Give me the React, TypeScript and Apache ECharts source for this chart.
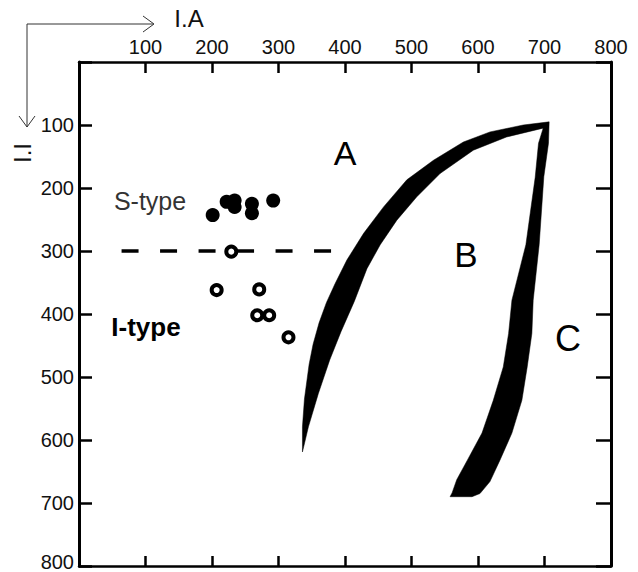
import React, { useEffect, useRef } from "react";
import * as echarts from "echarts";

// Axis ranges / ticks
const axisMin = 0;
const axisMax = 800;
const axisStep = 100;

// S-type granites (filled circles): I.A on x, I.I on y
const sTypeIA = [201, 222, 234, 234, 260, 260, 292];
const sTypeII = [243, 222, 220, 230, 225, 240, 220];

// I-type granites (open circles)
const iTypeIA = [229, 207, 271, 268, 286, 315];
const iTypeII = [301, 362, 361, 402, 402, 437];

// Dashed S/I divider
const dividerIA = [64, 405];
const dividerII = [300, 300];

// Black band outline (data coordinates)
const leftBandOuter: [number, number][] = [
  [707, 95], [668, 100], [618, 111], [578, 127], [533, 156], [493, 187],
  [458, 230], [428, 272], [403, 314], [385, 352], [372, 382], [361, 414],
  [352, 448], [346, 480], [339, 535], [336, 579], [336, 619],
];
const leftBandInner: [number, number][] = [
  [345, 579], [360, 526], [377, 473], [394, 428], [414, 380], [433, 328],
  [453, 290], [478, 251], [508, 214], [543, 177], [593, 140], [643, 119],
  [698, 105],
];
const rightBandLeft: [number, number][] = [
  [691, 129], [686, 183], [672, 290], [651, 378], [646, 431], [638, 484],
  [623, 537], [606, 589], [584, 632], [568, 663], [561, 684], [558, 690],
];
const rightBandRight: [number, number][] = [
  [591, 690], [603, 685], [618, 666], [633, 632], [651, 589], [666, 537],
  [674, 484], [681, 431], [683, 378], [692, 290], [699, 182], [706, 129],
];

const bandOutline = [...leftBandOuter, ...leftBandInner, ...rightBandLeft, ...rightBandRight];

const FONT = "'Liberation Sans', Arial, sans-serif";

export default function App() {
  const ref = useRef<HTMLDivElement>(null);

  useEffect(() => {
    document.body.style.margin = "0";
    if (!ref.current) return;
    const chart = echarts.init(ref.current, undefined, { renderer: "svg" });

    const hideZero = (v: number) => (v === 0 ? "" : String(v));
    const yLabel = (v: number) => (v === 0 ? "" : v === axisMax ? `{up|${v}}` : String(v));

    const baseAxis = {
      type: "value" as const,
      min: axisMin,
      max: axisMax,
      interval: axisStep,
      splitLine: { show: false },
    };

    chart.setOption({
      animation: false,
      backgroundColor: "#fff",
      grid: { left: 79, top: 62, width: 532, height: 504 },
      xAxis: [
        {
          ...baseAxis,
          position: "top",
          axisLine: { show: true, onZero: false, lineStyle: { color: "#000", width: 2.5 } },
          axisTick: { show: true, inside: true, length: 11, lineStyle: { color: "#000", width: 2.5 } },
          axisLabel: { show: true, formatter: hideZero, margin: 5, color: "#111", fontSize: 20, fontFamily: FONT },
        },
        {
          ...baseAxis,
          position: "bottom",
          axisLine: { show: true, onZero: false, lineStyle: { color: "#000", width: 2.5 } },
          axisTick: { show: true, inside: true, length: 10, lineStyle: { color: "#000", width: 2.5 } },
          axisLabel: { show: false },
        },
      ],
      yAxis: [
        {
          ...baseAxis,
          inverse: true,
          position: "left",
          axisLine: { show: true, onZero: false, lineStyle: { color: "#000", width: 3 } },
          axisTick: { show: true, inside: true, length: 13, lineStyle: { color: "#000", width: 2.5 } },
          axisLabel: {
            show: true,
            formatter: yLabel,
            margin: 5,
            color: "#111",
            fontSize: 20,
            fontFamily: FONT,
            rich: { up: { fontSize: 20, fontFamily: FONT, color: "#111", padding: [0, 0, 9, 0] } },
          },
        },
        {
          ...baseAxis,
          inverse: true,
          position: "right",
          axisLine: { show: true, onZero: false, lineStyle: { color: "#000", width: 3 } },
          axisTick: { show: true, inside: true, length: 15, lineStyle: { color: "#000", width: 2.5 } },
          axisLabel: { show: false },
        },
      ],
      series: [
        {
          type: "line",
          xAxisIndex: 0,
          yAxisIndex: 0,
          data: dividerIA.map((x, i) => [x, dividerII[i]]),
          symbol: "none",
          z: 2,
          lineStyle: { color: "#000", width: 3.5, type: [17, 21.5] },
          silent: true,
        },
        {
          type: "custom",
          coordinateSystem: "cartesian2d",
          xAxisIndex: 0,
          yAxisIndex: 0,
          data: [[0, 0]],
          z: 3,
          silent: true,
          renderItem: (_params: any, api: any) => {
            const pts = bandOutline.map((p) => api.coord(p));
            return {
              type: "polygon",
              shape: { points: pts },
              style: { fill: "#000", stroke: "#000", lineWidth: 0.5 },
            };
          },
        },
        {
          type: "scatter",
          name: "S-type",
          xAxisIndex: 0,
          yAxisIndex: 0,
          z: 4,
          symbol: "circle",
          symbolSize: 14,
          itemStyle: { color: "#000", opacity: 1 },
          data: sTypeIA.map((x, i) => [x, sTypeII[i]]),
        },
        {
          type: "scatter",
          name: "I-type",
          xAxisIndex: 0,
          yAxisIndex: 0,
          z: 5,
          symbol: "circle",
          symbolSize: 10,
          itemStyle: { color: "#fff", borderColor: "#000", borderWidth: 4, opacity: 1 },
          data: iTypeIA.map((x, i) => [x, iTypeII[i]]),
        },
      ],
      graphic: [
        { type: "polyline", shape: { points: [[27, 24], [153, 24]] }, style: { stroke: "#333", lineWidth: 1, fill: "none" } },
        { type: "polyline", shape: { points: [[143, 16], [154, 24], [143, 32]] }, style: { stroke: "#333", lineWidth: 1, fill: "none" } },
        { type: "polyline", shape: { points: [[27, 24], [27, 127]] }, style: { stroke: "#333", lineWidth: 1, fill: "none" } },
        { type: "polyline", shape: { points: [[19, 116], [27, 127], [35, 116]] }, style: { stroke: "#333", lineWidth: 1, fill: "none" } },
        { type: "text", x: 189, y: 18, style: { text: "I.A", fontSize: 24, fontFamily: FONT, fill: "#111", align: "center", verticalAlign: "middle" } },
        { type: "text", x: 22, y: 153, rotation: Math.PI / 2, style: { text: "I.I", fontSize: 24, fontFamily: FONT, fill: "#111", align: "center", verticalAlign: "middle" } },
        { type: "text", x: 150, y: 201, z: 10, style: { text: "S-type", fontSize: 25, fontFamily: FONT, fill: "#333", align: "center", verticalAlign: "middle" } },
        { type: "text", x: 146, y: 327, z: 10, style: { text: "I-type", fontSize: 26, fontWeight: "bold", fontFamily: FONT, fill: "#000", align: "center", verticalAlign: "middle" } },
        { type: "text", x: 345, y: 153, z: 10, style: { text: "A", fontSize: 34, fontFamily: FONT, fill: "#000", align: "center", verticalAlign: "middle" } },
        { type: "text", x: 466, y: 254, z: 10, style: { text: "B", fontSize: 35, fontFamily: FONT, fill: "#000", align: "center", verticalAlign: "middle" } },
        { type: "text", x: 568, y: 338, z: 10, style: { text: "C", fontSize: 36, fontFamily: FONT, fill: "#000", align: "center", verticalAlign: "middle" } },
      ],
    });

    return () => {
      chart.dispose();
    };
  }, []);

  return <div ref={ref} style={{ width: 638, height: 572 }} />;
}
